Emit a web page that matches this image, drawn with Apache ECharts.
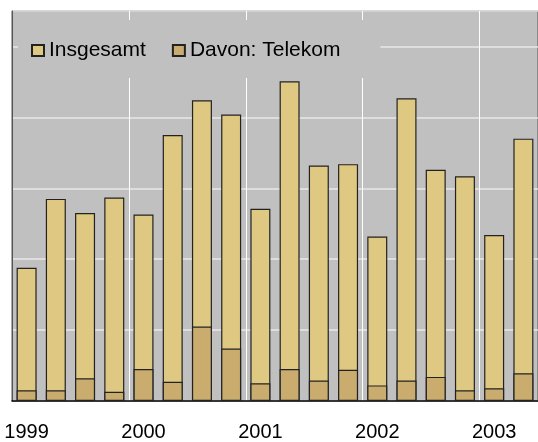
<!DOCTYPE html>
<html>
<head>
<meta charset="utf-8">
<script src="https://cdn.jsdelivr.net/npm/echarts@6/dist/echarts.min.js"></script>
<style>
    html, body { margin: 0; padding: 0; background: #fff; overflow: hidden; }
    #chart { width: 538px; height: 442px; }
</style>
</head>
<body>
<div id="chart"></div>
<script>
// Quartale 1999 Q1 bis 2003 Q2
const quarters = [
    '1999 Q1', '1999 Q2', '1999 Q3', '1999 Q4',
    '2000 Q1', '2000 Q2', '2000 Q3', '2000 Q4',
    '2001 Q1', '2001 Q2', '2001 Q3', '2001 Q4',
    '2002 Q1', '2002 Q2', '2002 Q3', '2002 Q4',
    '2003 Q1', '2003 Q2'
]
const insgesamt = [188, 285, 265, 287, 263, 375, 424, 404, 271, 451, 332, 334, 232, 427, 326, 317, 234, 370]
const telekom = [15, 15, 32, 13, 45, 27, 105, 74, 25, 45, 29, 44, 22, 29, 34, 15, 18, 39]

const chart = echarts.init(document.getElementById('chart'))

const font = 'Liberation Sans, Arial, sans-serif'

chart.setOption({
    animation: false,
    textStyle: { fontFamily: font },
    grid: {
        left: 12,
        right: -4,
        top: 11,
        bottom: 39,
        show: true,
        backgroundColor: '#c0c0c0',
        borderColor: '#555',
        borderWidth: 1
    },
    legend: {
        left: 18,
        top: 20,
        padding: [20, 40, 17, 13],
        backgroundColor: '#c0c0c0',
        itemWidth: 12,
        itemHeight: 11,
        itemGap: 26,
        icon: 'rect',
        textStyle: { fontSize: 21, color: '#000', fontFamily: font },
        data: ['Insgesamt', 'Davon: Telekom']
    },
    xAxis: {
        type: 'category',
        data: quarters,
        axisLine: { lineStyle: { color: '#000', width: 1.5 } },
        axisTick: { show: false },
        axisLabel: {
            interval: 0,
            fontSize: 20,
            color: '#000',
            margin: 21,
            formatter: (v, i) => (i % 4 === 0 ? v.slice(0, 4) : '')
        },
        splitLine: {
            show: true,
            interval: (i) => i % 4 === 0,
            lineStyle: { color: '#ffffff', width: 1 }
        }
    },
    yAxis: {
        type: 'value',
        min: 0,
        max: 550,
        interval: 100,
        axisLine: { show: true, lineStyle: { color: '#555' } },
        axisTick: { show: false },
        axisLabel: { show: false },
        splitLine: { lineStyle: { color: '#e8e8e8', width: 1.5 } }
    },
    series: [
        {
            name: 'Insgesamt',
            type: 'bar',
            data: insgesamt,
            barWidth: 20,
            barGap: '-100%',
            itemStyle: { color: '#dfc982', borderColor: '#222', borderWidth: 1.2 }
        },
        {
            name: 'Davon: Telekom',
            type: 'bar',
            data: telekom,
            barWidth: 20,
            itemStyle: { color: '#c9ac6e', borderColor: '#222', borderWidth: 1.2 }
        }
    ]
})
</script>
</body>
</html>
